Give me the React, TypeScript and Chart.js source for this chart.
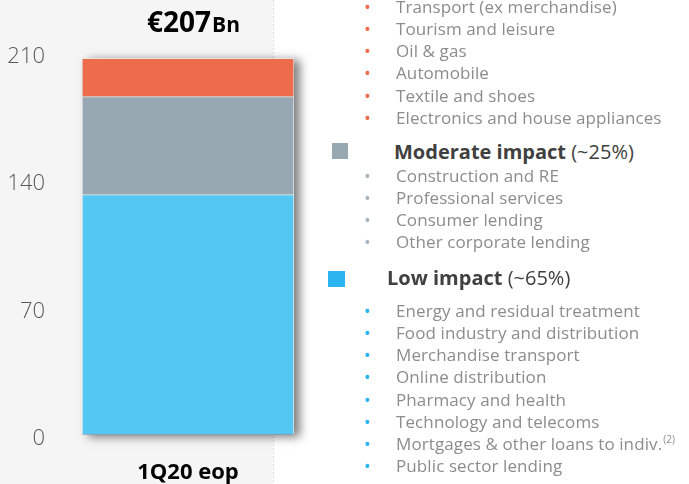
import React, { useEffect, useRef } from 'react';
import { Chart, registerables } from 'chart.js';

Chart.register(...registerables);

// ---- data ----
const categories = ['1Q20 eop'];
const lowImpact = [132];
const moderateImpact = [54];
const highImpact = [21];
const yTicks = [0, 70, 140, 210];
const totalLabel = '€207';
const totalUnit = 'Bn';

const highItems = [
  'Transport (ex merchandise)',
  'Tourism and leisure',
  'Oil & gas',
  'Automobile',
  'Textile and shoes',
  'Electronics and house appliances',
];
const moderateHeader = 'Moderate impact';
const moderatePct = '(~25%)';
const moderateItems = [
  'Construction and RE',
  'Professional services',
  'Consumer lending',
  'Other corporate lending',
];
const lowHeader = 'Low impact';
const lowPct = '(~65%)';
const lowItems = [
  'Energy and residual treatment',
  'Food industry and distribution',
  'Merchandise transport',
  'Online distribution',
  'Pharmacy and health',
  'Technology and telecoms',
  'Mortgages & other loans to indiv.',
  'Public sector lending',
];
const lowItemNotes = ['', '', '', '', '', '', '(2)', ''];

// ---- styles ----
const BLUE = '#54C8F2';
const GRAY = '#97A8B2';
const GRAY_BULLET = '#A9B6BF';
const ORANGE = '#EC6C4B';
const BLUE_SQ = '#2BB5F0';
const FONT = '"Open Sans", "Noto Sans", sans-serif';

const panelPlugin = {
  id: 'panel',
  beforeDraw(chart: any) {
    const ctx = chart.ctx;
    ctx.save();
    ctx.fillStyle = '#f5f5f5';
    ctx.fillRect(0, 0, 273, chart.height);
    ctx.strokeStyle = '#dedede';
    ctx.lineWidth = 1;
    ctx.setLineDash([2, 2]);
    ctx.beginPath();
    ctx.moveTo(273.5, 0);
    ctx.lineTo(273.5, chart.height);
    ctx.stroke();
    ctx.restore();
  },
};

const shadowPlugin = {
  id: 'barShadow',
  beforeDatasetsDraw(chart: any) {
    let left = Infinity, right = -Infinity, top = Infinity, bottom = -Infinity;
    chart.data.datasets.forEach((_: any, i: number) => {
      const meta = chart.getDatasetMeta(i);
      meta.data.forEach((el: any) => {
        const p = el.getProps(['x', 'y', 'base', 'width'], true);
        left = Math.min(left, p.x - p.width / 2);
        right = Math.max(right, p.x + p.width / 2);
        top = Math.min(top, p.y, p.base);
        bottom = Math.max(bottom, p.y, p.base);
      });
    });
    if (!isFinite(left)) return;
    const ctx = chart.ctx;
    ctx.save();
    ctx.shadowColor = 'rgba(0,0,0,0.5)';
    ctx.shadowBlur = 9;
    ctx.shadowOffsetX = 6;
    ctx.shadowOffsetY = 2;
    ctx.fillStyle = '#888';
    ctx.fillRect(left, top, right - left, bottom - top);
    ctx.restore();
  },
};

const titlePlugin = {
  id: 'totalTitle',
  afterDraw(chart: any) {
    const ctx = chart.ctx;
    ctx.save();
    ctx.fillStyle = '#000';
    ctx.textBaseline = 'alphabetic';
    ctx.textAlign = 'left';
    ctx.font = `bold 28px ${FONT}`;
    const x0 = 147;
    ctx.fillText(totalLabel, x0, 32);
    const w = ctx.measureText(totalLabel).width;
    ctx.font = `bold 21px ${FONT}`;
    ctx.fillText(totalUnit, x0 + w + 1, 32);
    ctx.restore();
  },
};

function BarChart() {
  const ref = useRef<HTMLCanvasElement | null>(null);
  useEffect(() => {
    if (!ref.current) return;
    const chart = new Chart(ref.current, {
      type: 'bar',
      data: {
        labels: categories,
        datasets: [
          { label: 'Low impact', data: lowImpact, backgroundColor: BLUE, borderColor: 'rgba(255,255,255,0.85)', borderWidth: 1 },
          { label: 'Moderate impact', data: moderateImpact, backgroundColor: GRAY, borderColor: 'rgba(255,255,255,0.85)', borderWidth: 1 },
          { label: 'High impact', data: highImpact, backgroundColor: ORANGE, borderColor: 'rgba(255,255,255,0.7)', borderWidth: 1 },
        ],
      },
      options: {
        responsive: false,
        animation: false,
        devicePixelRatio: 1,
        layout: { padding: { top: 53, right: 16, bottom: 0, left: 0 } },
        plugins: { legend: { display: false }, tooltip: { enabled: false }, title: { display: false } },
        datasets: { bar: { barPercentage: 1, categoryPercentage: 1 } },
        scales: {
          x: {
            stacked: true,
            grid: { display: false },
            border: { display: false },
            ticks: { color: '#000', font: { family: FONT, size: 22, weight: 'bold' }, padding: 17 },
            afterFit: (s: any) => { s.height = 49.5; },
          },
          y: {
            stacked: true,
            min: 0,
            max: 210,
            grid: { display: false },
            border: { display: false },
            afterBuildTicks: (s: any) => { s.ticks = yTicks.map((v) => ({ value: v })); },
            ticks: { color: '#595959', font: { family: FONT, size: 22, weight: 300 }, padding: 29, labelOffset: 4 },
            afterFit: (s: any) => { s.width = 82; },
          },
        },
      },
      plugins: [panelPlugin, shadowPlugin, titlePlugin],
    } as any);
    return () => chart.destroy();
  }, []);
  return <canvas ref={ref} width={310} height={484} style={{ position: 'absolute', left: 0, top: 0, display: 'block' }} />;
}

const LH = 22.2;

function Items({ items, top, color, notes }: { items: string[]; top: number; color: string; notes?: string[] }) {
  return (
    <div style={{ position: 'absolute', left: 0, top, width: 689 }}>
      {items.map((t, i) => (
        <div key={t} style={{ position: 'relative', height: LH, lineHeight: `${LH}px`, whiteSpace: 'nowrap' }}>
          <span style={{ position: 'absolute', left: 364, color, fontSize: 18 }}>•</span>
          <span style={{ position: 'absolute', left: 396, color: '#8c8c8c', fontSize: 17, letterSpacing: 0.1 }}>
            {t}
            {notes && notes[i] ? <sup style={{ fontSize: 10, verticalAlign: 'top', position: 'relative', top: -5, marginLeft: 1 }}>{notes[i]}</sup> : null}
          </span>
        </div>
      ))}
    </div>
  );
}

export default function App() {
  return (
    <div style={{ position: 'fixed', left: 0, top: 0, width: 689, height: 484, overflow: 'hidden', background: '#fff', fontFamily: FONT }}>
      <BarChart />
      <Items items={highItems} top={7 - LH / 2} color={ORANGE} />
      <div style={{ position: 'absolute', left: 332, top: 143, width: 16, height: 16, background: GRAY }} />
      <div style={{ position: 'absolute', left: 394, top: 152 - 13, lineHeight: '26px', fontSize: 20, color: '#404040', whiteSpace: 'nowrap' }}>
        <b>{moderateHeader}</b> {moderatePct}
      </div>
      <Items items={moderateItems} top={175.7 - LH / 2} color={GRAY_BULLET} />
      <div style={{ position: 'absolute', left: 328, top: 271, width: 17, height: 16, background: BLUE_SQ }} />
      <div style={{ position: 'absolute', left: 387, top: 278 - 13, lineHeight: '26px', fontSize: 20, color: '#404040', whiteSpace: 'nowrap' }}>
        <b>{lowHeader}</b> {lowPct}
      </div>
      <Items items={lowItems} top={311 - LH / 2} color={BLUE_SQ} notes={lowItemNotes} />
    </div>
  );
}
